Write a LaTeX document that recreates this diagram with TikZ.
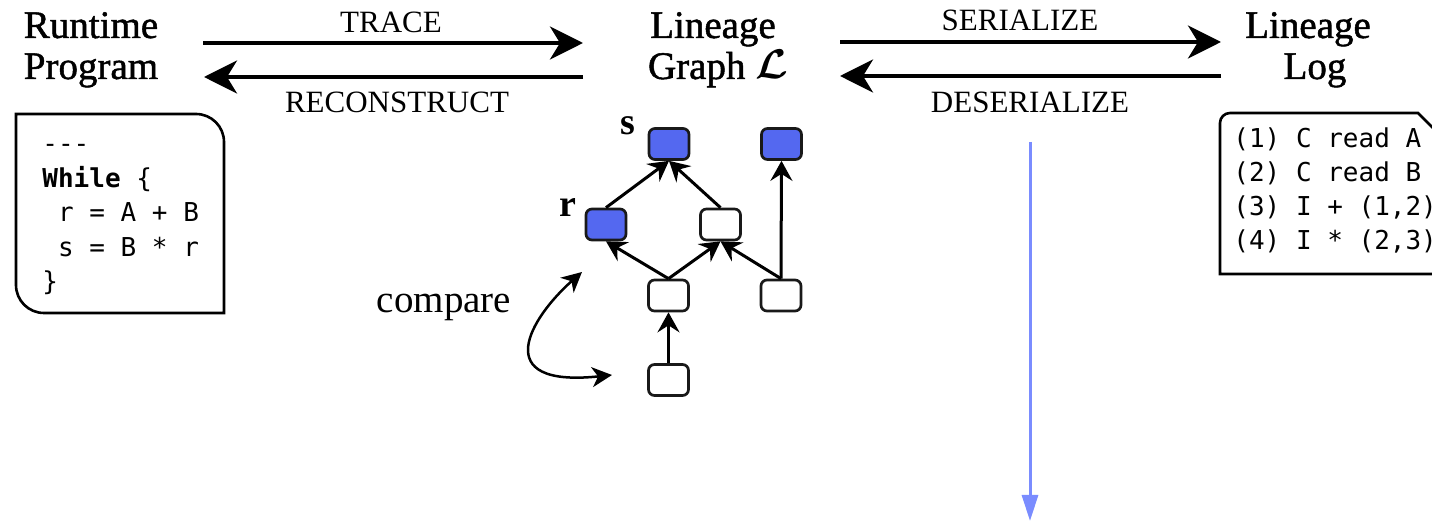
\documentclass[tikz,border=0pt]{standalone}
\usepackage{amsmath}
\usepackage{fontspec}
\setmainfont{Liberation Serif}
\setmonofont{DejaVu Sans Mono}
\newfontfamily\headfont{Liberation Serif}[FakeBold=1.3]
\usetikzlibrary{arrows.meta}
\definecolor{nodeblue}{RGB}{84,104,240}
\definecolor{flowblue}{RGB}{122,140,255}
\definecolor{edgegray}{RGB}{25,25,25}

\begin{document}
\begin{tikzpicture}[x=0.5pt,y=-0.5pt,
  title/.style={font=\headfont\fontsize{19.5}{23}\selectfont, anchor=base, inner sep=0pt},
  plain/.style={font=\fontsize{19.5}{23}\selectfont, anchor=base, inner sep=0pt},
  opname/.style={font=\fontsize{15.5}{18}\selectfont, anchor=base, inner sep=0pt},
  code/.style={font=\ttfamily\fontsize{13}{16}\selectfont, anchor=base west, inner sep=0pt},
  varname/.style={font=\bfseries\fontsize{19}{22}\selectfont, anchor=base, inner sep=0pt},
  bigarrow/.style={line width=2pt, -{Stealth[length=16.5pt,width=16.5pt,inset=5pt]}},
  cell/.style={draw=edgegray, line width=1.35pt, rounded corners=3pt, minimum width=20pt, minimum height=15.5pt, inner sep=0pt, fill=white},
  hot/.style={cell, fill=nodeblue},
  dep/.style={line width=1.5pt, -{Stealth[length=10pt,width=11pt,inset=3.5pt]}},
  cmptip/.tip={Stealth[length=10pt,width=10pt,inset=3pt]},
]
\clip (0,0) rectangle (1432,523);

% column headings
\node[title] (rt1) at (91,38) {Runtime};
\node[title] (rt2) at (91,79) {Program};
\node[title] (lg1) at (713,38) {Lineage};
\node[title] (lg2) at (718,79) {Graph $\boldsymbol{\mathcal{L}}$};
\node[title] (ll1) at (1308,38) {Lineage};
\node[title] (ll2) at (1315,79) {Log};

% transformations between the three forms
\coordinate (trA) at (203,43);  \coordinate (trB) at (583,43);
\coordinate (rcA) at (583,77);  \coordinate (rcB) at (204,77);
\coordinate (seA) at (840,42);  \coordinate (seB) at (1221,42);
\coordinate (deA) at (1221,76); \coordinate (deB) at (840,76);
\draw[bigarrow] (trA) -- (trB);
\draw[bigarrow] (rcA) -- (rcB);
\draw[bigarrow] (seA) -- (seB);
\draw[bigarrow] (deA) -- (deB);
\node[opname] (trace) at (391,33) {TRACE};
\node[opname] (recon) at (397,113) {RECONSTRUCT};
\node[opname] (ser) at (1020,31) {SERIALIZE};
\node[opname] (deser) at (1030,113) {DESERIALIZE};

% program listing
\draw[line width=1.3pt] (16,114) -- (196,114) .. controls (211.5,114) and (224,126.5) .. (224,142)
  -- (224,313) -- (44,313) .. controls (28.5,313) and (16,300.5) .. (16,285) -- cycle;
\node[code] (p1) at (42,153) {-{}-{}-};
\node[code] (p2) at (42,188) {\textbf{While} \{};
\node[code] (p3) at (42,222) {~r = A + B};
\node[code] (p4) at (42,257) {~s = B * r};
\node[code] (p5) at (42,291) {\}};

% log listing
\draw[line width=1.3pt] (1440,274) -- (1220,274) -- (1220,123)
  .. controls (1220,117.5) and (1224.5,113) .. (1230,113) -- (1418,113) -- (1440,135);
\node[code] (l1) at (1233,148) {(1) C read A};
\node[code] (l2) at (1233,182) {(2) C read B};
\node[code] (l3) at (1233,216) {(3) I + (1,2)};
\node[code] (l4) at (1233,250) {(4) I * (2,3)};

% lineage graph
\node[hot] (s) at (669,144) {};
\node[hot] (t) at (781.5,144) {};
\node[hot] (r) at (606,224.5) {};
\node[cell] (m) at (720.5,224.5) {};
\node[cell] (lm) at (668.5,295.5) {};
\node[cell] (lr) at (781,295.5) {};
\node[cell] (b) at (668.5,380) {};
\draw[dep] (r.north) -- (s.south);
\draw[dep] (m.north) -- (s.south);
\draw[dep] (lm.north) -- (r.south);
\draw[dep] (lm.north) -- (m.south);
\draw[dep] (lr.north) -- (m.south);
\draw[dep] (lr.north) -- (t.south);
\draw[dep] (b.north) -- (lm.south);
\node[varname] (slab) at (628,135) {s};
\node[varname] (rlab) at (568,217) {r};

% comparison of two graph nodes
\node[plain] (cmp) at (444,313) {compare};
\coordinate (c1) at (582,272);
\coordinate (c2) at (612,375);
\draw[line width=1.25pt, cmptip-cmptip] (c1) .. controls (530,318) and (488,388) .. (c2);

% downward flow
\coordinate (f1) at (1030,142);
\coordinate (f2) at (1030,521);
\draw[flowblue, line width=1.5pt, -{Triangle[length=13pt,width=8pt]}] (f1) -- (f2);
\end{tikzpicture}
\end{document}
